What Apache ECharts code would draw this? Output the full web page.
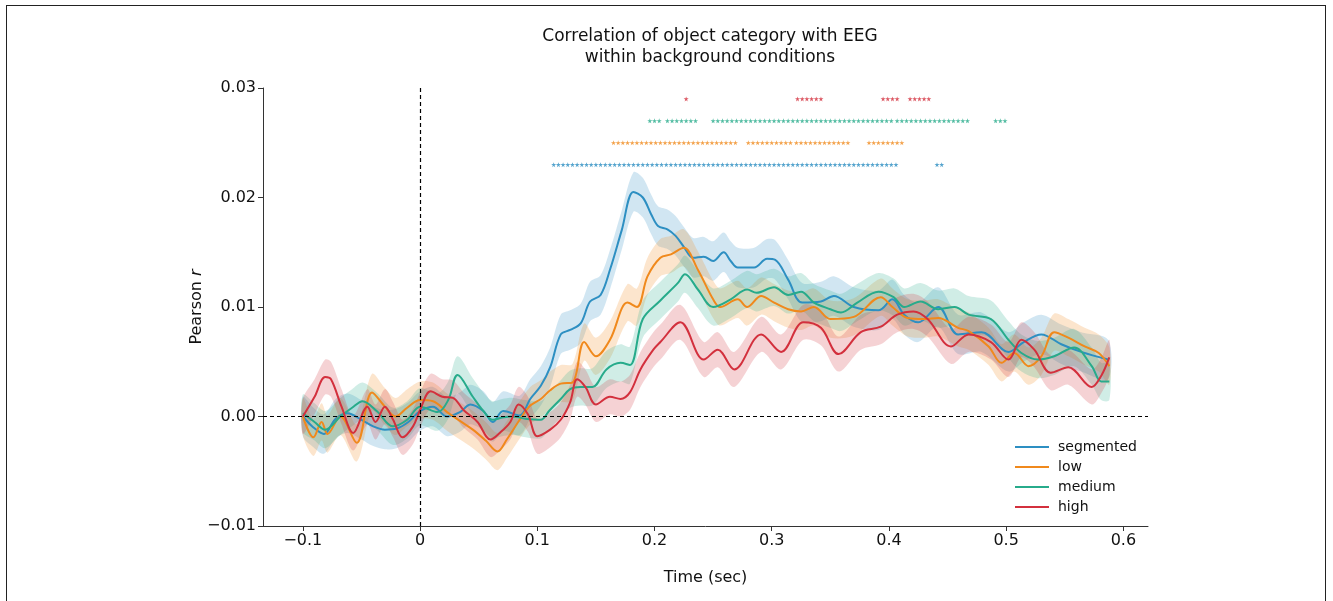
<!DOCTYPE html>
<html>
<head>
<meta charset="utf-8">
<script src="https://cdn.jsdelivr.net/npm/echarts@6/dist/echarts.min.js"></script>
<style>
    html, body { margin: 0; padding: 0; background: #fff; }
    #frame { position: absolute; left: 6px; top: 5px; width: 1320px; height: 610px; border: 1.5px solid #222; border-bottom: none; box-sizing: border-box; }
    #chart { position: absolute; left: 0; top: 0; width: 1333px; height: 601px; }
</style>
</head>
<body>
<div id="frame"></div>
<div id="chart"></div>
<script>
"use strict";

// time (sec), pearson r
var segmented = [
    [-0.100, 0.0000], [-0.091, -0.0010], [-0.082, -0.0016], [-0.072, -0.0002], [-0.062, 0.0003],
    [-0.050, -0.0003], [-0.040, -0.0009], [-0.030, -0.0012], [-0.020, -0.0011], [-0.010, -0.0005],
    [0.000, 0.0005], [0.011, 0.0009], [0.023, 0.0000], [0.034, 0.0004], [0.043, 0.0011],
    [0.054, 0.0005], [0.062, -0.0005], [0.071, 0.0005], [0.085, 0.0001], [0.094, 0.0016],
    [0.103, 0.0028], [0.111, 0.0045], [0.120, 0.0075], [0.128, 0.0079], [0.137, 0.0085],
    [0.145, 0.0105], [0.154, 0.0111], [0.162, 0.0134], [0.172, 0.0170], [0.182, 0.0205],
    [0.190, 0.0200], [0.197, 0.0185], [0.203, 0.0174], [0.211, 0.0171], [0.218, 0.0165],
    [0.225, 0.0155], [0.233, 0.0145], [0.242, 0.0146], [0.250, 0.0142], [0.259, 0.0150],
    [0.265, 0.0142], [0.271, 0.0136], [0.285, 0.0136], [0.296, 0.0144], [0.303, 0.0143],
    [0.314, 0.0125], [0.326, 0.0104], [0.342, 0.0105], [0.353, 0.0110], [0.370, 0.0100],
    [0.391, 0.0097], [0.403, 0.0107], [0.413, 0.0093], [0.425, 0.0086], [0.442, 0.0100],
    [0.459, 0.0075], [0.479, 0.0077], [0.502, 0.0059], [0.515, 0.0068], [0.530, 0.0075],
    [0.547, 0.0066], [0.564, 0.0059], [0.587, 0.0052]
];
var low = [
    [-0.100, 0.0000], [-0.091, -0.0019], [-0.084, -0.0005], [-0.079, -0.0016], [-0.068, 0.0000],
    [-0.054, -0.0024], [-0.041, 0.0022], [-0.030, 0.0009], [-0.021, 0.0000], [-0.011, 0.0008],
    [0.000, 0.0015], [0.011, 0.0014], [0.023, 0.0004], [0.034, -0.0004], [0.045, -0.0012],
    [0.056, -0.0022], [0.066, -0.0032], [0.074, -0.0021], [0.085, -0.0003], [0.094, 0.0010],
    [0.103, 0.0016], [0.111, 0.0024], [0.120, 0.0030], [0.130, 0.0031], [0.140, 0.0068],
    [0.150, 0.0055], [0.162, 0.0070], [0.177, 0.0104], [0.185, 0.0100], [0.194, 0.0128],
    [0.205, 0.0145], [0.214, 0.0148], [0.225, 0.0154], [0.237, 0.0134], [0.250, 0.0107],
    [0.256, 0.0100], [0.271, 0.0107], [0.279, 0.0100], [0.291, 0.0110], [0.302, 0.0104],
    [0.314, 0.0098], [0.325, 0.0096], [0.336, 0.0100], [0.350, 0.0089], [0.370, 0.0091],
    [0.393, 0.0109], [0.403, 0.0100], [0.416, 0.0090], [0.430, 0.0089], [0.442, 0.0090],
    [0.459, 0.0081], [0.468, 0.0078], [0.485, 0.0064], [0.496, 0.0049], [0.507, 0.0058],
    [0.519, 0.0046], [0.530, 0.0055], [0.541, 0.0077], [0.553, 0.0072], [0.567, 0.0064],
    [0.579, 0.0058], [0.588, 0.0046]
];
var medium = [
    [-0.100, 0.0003], [-0.090, -0.0005], [-0.081, -0.0012], [-0.068, 0.0000], [-0.058, 0.0008],
    [-0.049, 0.0014], [-0.037, 0.0005], [-0.023, -0.0009], [-0.011, -0.0003], [0.000, 0.0009],
    [0.015, 0.0004], [0.024, 0.0015], [0.032, 0.0038], [0.045, 0.0018], [0.054, 0.0005],
    [0.062, -0.0003], [0.070, -0.0001], [0.079, 0.0000], [0.090, -0.0002], [0.103, -0.0003],
    [0.110, 0.0005], [0.120, 0.0016], [0.128, 0.0025], [0.137, 0.0027], [0.147, 0.0027],
    [0.159, 0.0043], [0.171, 0.0049], [0.179, 0.0047], [0.190, 0.0089], [0.205, 0.0106],
    [0.220, 0.0122], [0.226, 0.0130], [0.237, 0.0116], [0.250, 0.0100], [0.265, 0.0107],
    [0.279, 0.0116], [0.287, 0.0113], [0.302, 0.0118], [0.314, 0.0111], [0.325, 0.0114],
    [0.336, 0.0104], [0.350, 0.0098], [0.359, 0.0095], [0.373, 0.0104], [0.391, 0.0114],
    [0.404, 0.0109], [0.413, 0.0100], [0.427, 0.0105], [0.442, 0.0098], [0.456, 0.0100],
    [0.468, 0.0093], [0.487, 0.0089], [0.502, 0.0070], [0.513, 0.0058], [0.527, 0.0052],
    [0.541, 0.0055], [0.558, 0.0063], [0.573, 0.0046], [0.581, 0.0032], [0.588, 0.0032]
];
var high = [
    [-0.100, 0.0000], [-0.090, 0.0018], [-0.081, 0.0036], [-0.076, 0.0034], [-0.067, 0.0009],
    [-0.057, -0.0015], [-0.045, 0.0009], [-0.038, -0.0005], [-0.030, 0.0009], [-0.023, -0.0003],
    [-0.015, -0.0019], [-0.006, -0.0009], [0.000, 0.0006], [0.009, 0.0023], [0.019, 0.0018],
    [0.028, 0.0017], [0.037, 0.0006], [0.049, -0.0005], [0.060, -0.0021], [0.068, -0.0015],
    [0.077, -0.0005], [0.084, 0.0011], [0.092, 0.0002], [0.100, -0.0018], [0.111, -0.0012],
    [0.120, -0.0003], [0.128, 0.0013], [0.134, 0.0034], [0.141, 0.0027], [0.150, 0.0011],
    [0.162, 0.0018], [0.171, 0.0016], [0.179, 0.0022], [0.188, 0.0043], [0.199, 0.0061],
    [0.205, 0.0068], [0.222, 0.0086], [0.242, 0.0052], [0.254, 0.0061], [0.268, 0.0043],
    [0.291, 0.0075], [0.308, 0.0059], [0.327, 0.0086], [0.342, 0.0081], [0.357, 0.0057],
    [0.376, 0.0077], [0.393, 0.0082], [0.407, 0.0093], [0.421, 0.0096], [0.433, 0.0089],
    [0.453, 0.0064], [0.468, 0.0075], [0.487, 0.0068], [0.502, 0.0052], [0.513, 0.0070],
    [0.524, 0.0061], [0.538, 0.0040], [0.553, 0.0045], [0.573, 0.0027], [0.581, 0.0037],
    [0.588, 0.0054]
];

// half width of shaded error band
var bandHalf = [0.0018, 0.0017, 0.0017, 0.0016];

// significant time windows [start, end] (sec), one row per condition
var sigSegmented = [[0.114, 0.408], [0.441, 0.448]];
var sigLow = [[0.165, 0.271], [0.280, 0.318], [0.321, 0.367], [0.383, 0.413]];
var sigMedium = [[0.196, 0.206], [0.211, 0.237], [0.250, 0.402], [0.407, 0.467], [0.491, 0.502]];
var sigHigh = [[0.227, 0.227], [0.322, 0.344], [0.395, 0.409], [0.418, 0.436]];
var sigRows = [0.023, 0.025, 0.027, 0.029];
var sigStep = 0.004;

var names = ["segmented", "low", "medium", "high"];
var colors = ["#2d8fc2", "#f0891c", "#27ab8b", "#d3303d"];
var xTicks = [-0.1, 0, 0.1, 0.2, 0.3, 0.4, 0.5, 0.6];

var chart = echarts.init(document.getElementById("chart"));

var lines = [segmented, low, medium, high];
var sigs = [sigSegmented, sigLow, sigMedium, sigHigh];
var font = "DejaVu Sans";
var star = "path://M50,0 L61,35 L98,35 L68,57 L79,91 L50,70 L21,91 L32,57 L2,35 L39,35 Z";

function minus(s) {
    return s.replace("-", "\u2212");
}

var series = [];

// error bands
lines.forEach(function (pts, i) {
    series.push({
        name: names[i] + " band",
        type: "custom",
        z: 1,
        silent: true,
        data: [[0, 0]],
        renderItem: function (params, api) {
            var top = pts.map(p => api.coord([p[0], p[1] + bandHalf[i]]));
            var bottom = pts.map(p => api.coord([p[0], p[1] - bandHalf[i]])).reverse();
            return {
                type: "polygon",
                shape: { points: top.concat(bottom), smooth: 0.3 },
                style: { fill: colors[i], opacity: 0.22 }
            };
        }
    });
});

// mean lines
lines.forEach(function (pts, i) {
    series.push({
        name: names[i],
        type: "line",
        z: 3,
        data: pts,
        smooth: 0.35,
        showSymbol: false,
        lineStyle: { color: colors[i], width: 2 },
        itemStyle: { color: colors[i] }
    });
});

// significance markers
sigs.forEach(function (runs, i) {
    var marks = [];
    runs.forEach(function (r) {
        for (var t = r[0]; t <= r[1] + 1e-9; t += sigStep) {
            marks.push([t, sigRows[i]]);
        }
    });
    series.push({
        name: names[i] + " sig",
        type: "scatter",
        z: 4,
        symbol: star,
        symbolSize: 5,
        itemStyle: { color: colors[i] },
        data: marks
    });
});

// zero reference lines
series.push({
    name: "ref",
    type: "line",
    data: [],
    markLine: {
        silent: true,
        symbol: "none",
        label: { show: false },
        lineStyle: { color: "#000", type: [4, 3], width: 1.2 },
        data: [{ yAxis: 0 }, { xAxis: 0 }]
    }
});

var option = {
    animation: false,
    textStyle: { fontFamily: font },
    title: {
        text: "Correlation of object category with EEG\nwithin background conditions",
        left: 705,
        top: 21,
        textAlign: "center",
        textStyle: { fontFamily: font, fontSize: 17, fontWeight: "normal", color: "#111", lineHeight: 21 }
    },
    legend: {
        orient: "vertical",
        left: 1010,
        top: 435,
        itemWidth: 34,
        itemHeight: 2,
        itemGap: 6,
        icon: "rect",
        data: names,
        textStyle: { fontFamily: font, fontSize: 14, color: "#111", padding: [0, 0, 0, 4] }
    },
    grid: { left: 263, right: 185, top: 88, bottom: 75 },
    xAxis: {
        type: "value",
        min: -0.134,
        max: 0.621,
        name: "Time (sec)",
        nameLocation: "middle",
        nameGap: 44,
        nameTextStyle: { fontFamily: font, fontSize: 16, color: "#111" },
        axisLine: { onZero: false, lineStyle: { color: "#333", width: 1 } },
        axisTick: { show: true, length: 5, customValues: xTicks, lineStyle: { color: "#333" } },
        axisLabel: {
            customValues: xTicks,
            fontSize: 16,
            color: "#111",
            margin: 7,
            formatter: function (v) {
                return minus(Math.abs(v) < 1e-9 ? "0" : v.toFixed(1));
            }
        },
        splitLine: { show: false }
    },
    yAxis: {
        type: "value",
        min: -0.01,
        max: 0.03,
        interval: 0.01,
        name: "{a|Pearson }{b|r}",
        nameLocation: "middle",
        nameGap: 58,
        nameMoveOverlap: false,
        nameTextStyle: {
            rich: {
                a: { fontFamily: font, fontSize: 16, color: "#111" },
                b: { fontFamily: font, fontSize: 16, color: "#111", fontStyle: "italic" }
            }
        },
        axisLine: { show: true, onZero: false, lineStyle: { color: "#333", width: 1 } },
        axisTick: { show: true, length: 5, lineStyle: { color: "#333" } },
        axisLabel: {
            fontSize: 16,
            color: "#111",
            margin: 7,
            formatter: function (v) {
                return minus(v.toFixed(2));
            }
        },
        splitLine: { show: false }
    },
    series: series
};

chart.setOption(option);
</script>
</body>
</html>
